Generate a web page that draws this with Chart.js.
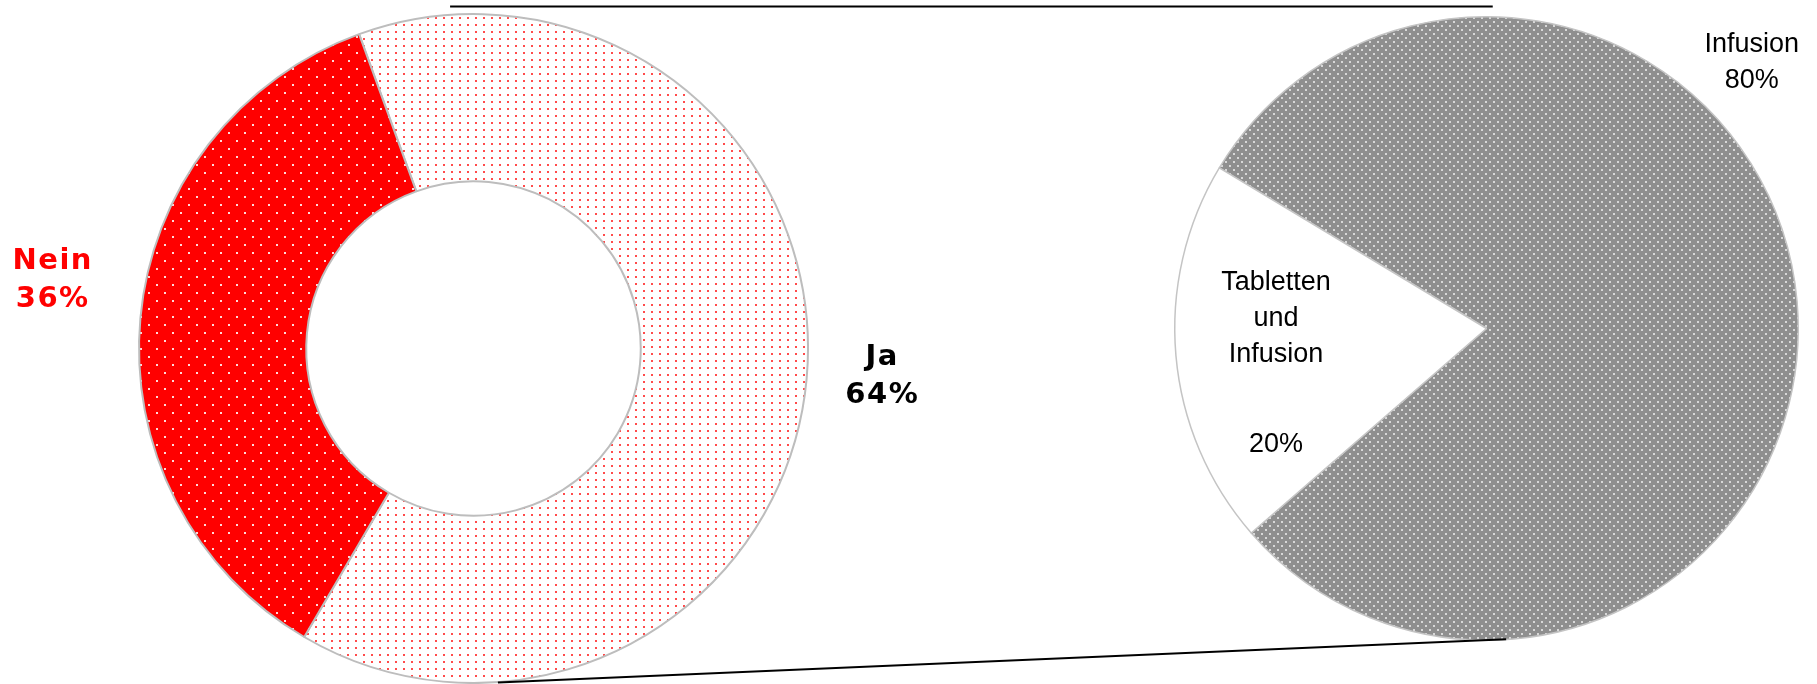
<!DOCTYPE html>
<html>
<head>
<meta charset="utf-8">
<script src="https://cdn.jsdelivr.net/npm/chart.js@4/dist/chart.umd.min.js"></script>
<style>
  body { margin: 0; background: #fff; }
  #wrap { position: relative; width: 1817px; height: 684px; }
  #wrap canvas { position: absolute; left: 0; top: 0; }
</style>
</head>
<body>
<div id="wrap">
  <canvas id="donut" width="1817" height="684"></canvas>
  <canvas id="pie" width="1817" height="684"></canvas>
</div>
<script>
// Data: left ring (Ja / Nein)
const answerLabels = ['Ja', 'Nein'];
const answerValues = [64, 36];

// Data: right pie (breakdown)
const methodLabels = [['Infusion'], ['Tabletten', 'und', 'Infusion']];
const methodValues = [80, 20];

const pct = v => v + '%';

// Small tiled patterns to mimic the dotted fills
function makePattern(w, h, bg, dotColor, dots, size) {
    const c = document.createElement('canvas');
    c.width = w;
    c.height = h;
    const g = c.getContext('2d');
    g.fillStyle = bg;
    g.fillRect(0, 0, w, h);
    g.fillStyle = dotColor;
    dots.forEach(([x, y]) => g.fillRect(x, y, size, size));
    return g.createPattern(c, 'repeat');
}

const jaFill = makePattern(8, 7, '#ffffff', 'rgba(255,30,30,0.8)', [[3, 3]], 2);
const neinFill = makePattern(16, 16, '#ff0000', 'rgba(255,255,255,0.85)', [[4, 4], [12, 12]], 2);
const infusionFill = makePattern(8, 8, '#8f8f8f', '#d8d8d8', [[1, 1], [5, 5]], 2);

// Draws the multi-line labels next to each slice
function makeLabelPlugin(cfg) {
    return {
        id: 'sliceLabels',
        afterDatasetsDraw(chart) {
            const ctx = chart.ctx;
            const arcs = chart.getDatasetMeta(0).data;
            ctx.save();
            ctx.font = cfg.font;
            if (cfg.spacing) ctx.letterSpacing = cfg.spacing;
            ctx.textAlign = 'center';
            ctx.textBaseline = 'alphabetic';
            arcs.forEach((arc, i) => {
                const a = cfg.anchors[i];
                const x = arc.x + a.dx * arc.outerRadius;
                let y = arc.y + a.dy * arc.outerRadius;
                ctx.fillStyle = cfg.colors[i];
                cfg.lines[i].forEach((line, j) => {
                    if (j > 0) y += cfg.lineHeight + (j === cfg.lines[i].length - 1 ? (a.gap || 0) : 0);
                    ctx.fillText(line, x, y);
                });
            });
            ctx.restore();
        }
    };
}

const donutChart = new Chart(document.getElementById('donut'), {
    type: 'doughnut',
    data: {
        labels: answerLabels,
        datasets: [{
            data: answerValues,
            backgroundColor: [jaFill, neinFill],
            borderColor: '#bdbdbd',
            borderWidth: 2
        }]
    },
    options: {
        responsive: false,
        animation: false,
        cutout: '50%',
        rotation: -20,
        layout: { padding: { left: 138, right: 1008, top: 13, bottom: 0 } },
        plugins: { legend: { display: false }, tooltip: { enabled: false } }
    },
    plugins: [makeLabelPlugin({
        font: 'bold 29px "DejaVu Sans", Verdana, sans-serif',
        spacing: '1.5px',
        lineHeight: 38,
        colors: ['#000000', '#ff0000'],
        anchors: [{ dx: 1.222, dy: 0.049 }, { dx: -1.258, dy: -0.237 }],
        lines: answerLabels.map((l, i) => [l, pct(answerValues[i])])
    })]
});

// Connector lines between the ring and the pie
const connectorPlugin = {
    id: 'connectors',
    afterDatasetsDraw(chart) {
        const d = donutChart.getDatasetMeta(0).data[0];
        const p = chart.getDatasetMeta(0).data[0];
        const ctx = chart.ctx;
        ctx.save();
        ctx.strokeStyle = '#000000';
        ctx.lineWidth = 2.2;
        ctx.beginPath();
        const topY = d.y - d.outerRadius - 7.5;
        ctx.moveTo(d.x - 0.07 * d.outerRadius, topY);
        ctx.lineTo(p.x + 0.02 * p.outerRadius, topY);
        ctx.moveTo(d.x + 0.073 * d.outerRadius, d.y + d.outerRadius - 0.5);
        ctx.lineTo(p.x + 0.063 * p.outerRadius, p.y + p.outerRadius - 1);
        ctx.stroke();
        ctx.restore();
    }
};

const pieChart = new Chart(document.getElementById('pie'), {
    type: 'pie',
    data: {
        labels: methodLabels.map(l => l.join(' ')),
        datasets: [{
            data: methodValues,
            backgroundColor: [infusionFill, '#ffffff'],
            borderColor: '#c4c4c4',
            borderWidth: 1.5
        }]
    },
    options: {
        responsive: false,
        animation: false,
        rotation: -59,
        layout: { padding: { left: 1174, right: 18, top: 16, bottom: 43 } },
        plugins: { legend: { display: false }, tooltip: { enabled: false } }
    },
    plugins: [makeLabelPlugin({
        font: '27px "Liberation Sans", Arial, sans-serif',
        lineHeight: 36,
        colors: ['#000000', '#000000'],
        anchors: [{ dx: 0.851, dy: -0.886 }, { dx: -0.675, dy: -0.123, gap: 54 }],
        lines: methodLabels.map((l, i) => [...l, pct(methodValues[i])])
    }), connectorPlugin]
});
</script>
</body>
</html>
